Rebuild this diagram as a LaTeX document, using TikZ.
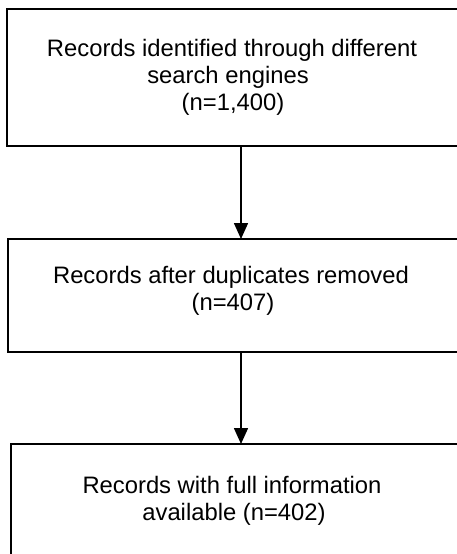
\documentclass[tikz,border=0pt]{standalone}
\usepackage{fontspec}
\setmainfont{Liberation Sans}
\usetikzlibrary{arrows.meta}
\begin{document}
\begin{tikzpicture}[x=1pt,y=-1pt,
  box/.style={draw, line width=1.6pt, rectangle, inner sep=0pt, outer sep=0pt},
  txt/.style={anchor=base, inner sep=0pt, font=\fontsize{23.8}{27}\selectfont},
  arr/.style={line width=1.6pt, -{Triangle[width=14pt,length=16pt]}}]
\useasboundingbox (0,0) rectangle (457,554);
\clip (0,0) rectangle (457,554);
\node[box, minimum width=468, minimum height=137] (b1) at (241,77.5) {};
\node[box, minimum width=466, minimum height=113] (b2) at (241,295.5) {};
\node[box, minimum width=460, minimum height=126] (b3) at (241,507) {};
\node[txt] (t1a) at (232,56) {Records identified through different};
\node[txt] (t1b) at (228,83) {search engines};
\node[txt] (t1c) at (233,110) {(n=1,400)};
\node[txt] (t2a) at (231,283) {Records after duplicates removed};
\node[txt] (t2b) at (233,310) {(n=407)};
\node[txt] (t3a) at (232,493) {Records with full information};
\node[txt] (t3b) at (234,520) {available (n=402)};
\draw[arr] (b1.south) -- (b2.north);
\draw[arr] (b2.south) -- (b3.north);
\end{tikzpicture}
\end{document}
